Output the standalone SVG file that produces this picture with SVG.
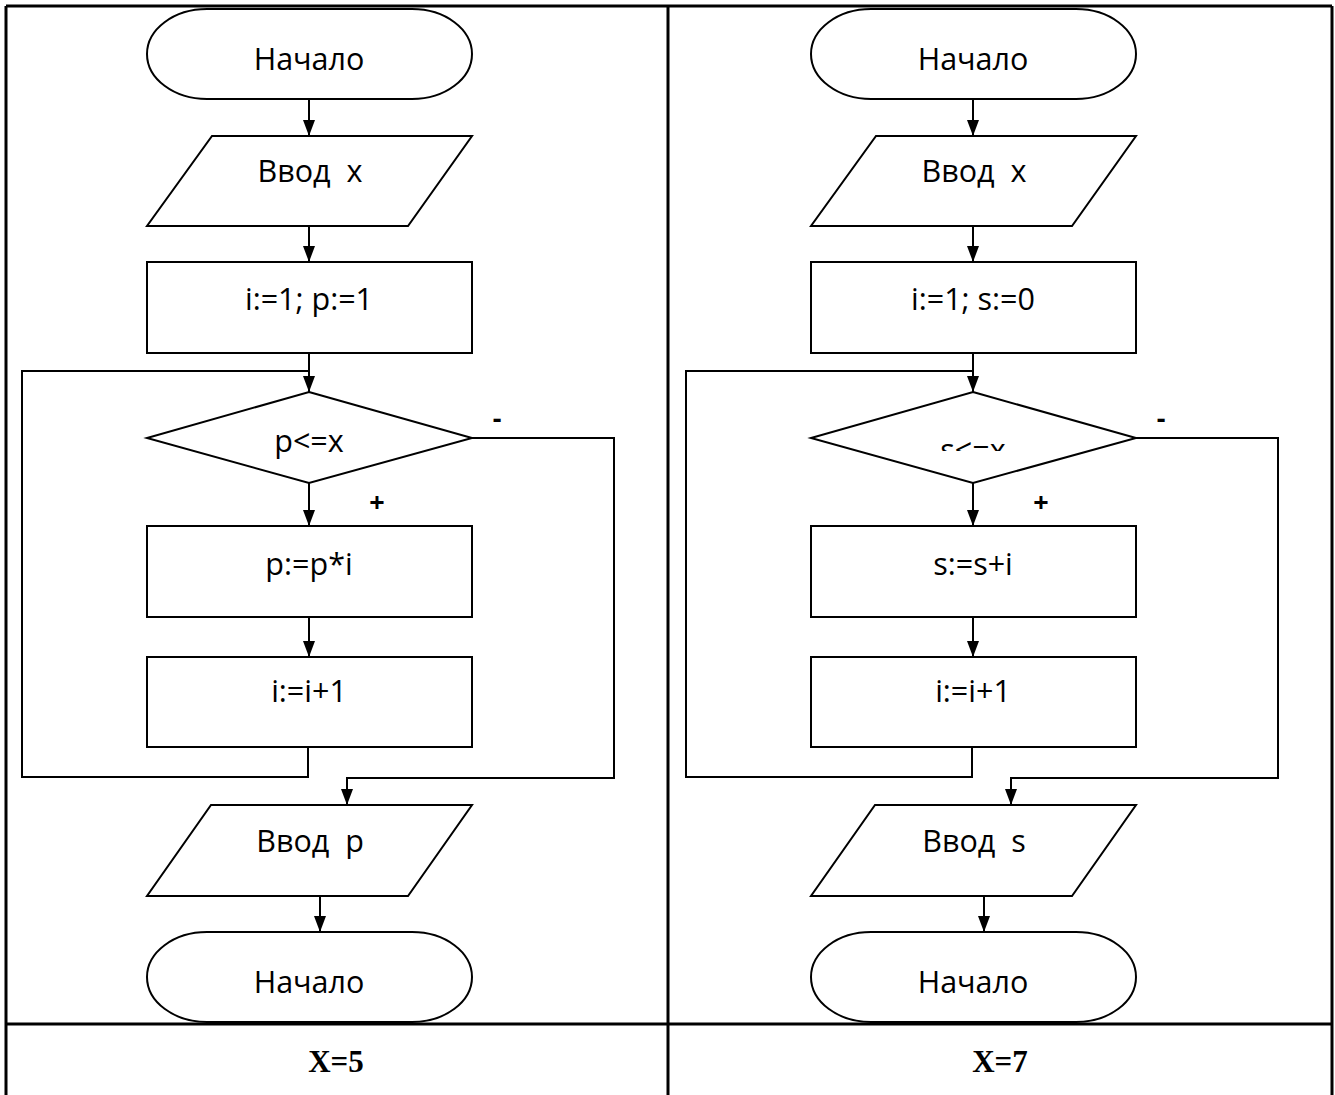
<svg xmlns="http://www.w3.org/2000/svg" width="1335" height="1095" viewBox="0 0 1335 1095">
<style>
.sh{fill:#fff;stroke:#000;stroke-width:2}
.t{font-family:"Open Sans","Liberation Sans",sans-serif;font-size:30.5px;fill:#000;text-anchor:middle;white-space:pre}
.lbl{font-family:"Open Sans","Liberation Sans",sans-serif;font-size:27px;font-weight:bold;fill:#000;text-anchor:middle}
.cap{font-family:"Liberation Serif",serif;font-size:31px;font-weight:bold;fill:#000;text-anchor:middle}
.c{fill:none;stroke:#000;stroke-width:2}
.tb{fill:none;stroke:#000;stroke-width:3}
</style>
<defs>
<marker id="ah" viewBox="0 0 16 12" markerWidth="16" markerHeight="12" refX="16" refY="6" orient="auto" markerUnits="userSpaceOnUse"><path d="M0,0 L16,6 L0,12 z" fill="#000"/></marker>
<clipPath id="clipS"><rect x="800" y="380" width="340" height="71"/></clipPath>
</defs>
<rect width="1335" height="1095" fill="#fff"/>
<g id="table">
<path class="tb" d="M6,6 H1332 M6,6 V1095 M668,6 V1095 M1332,6 V1095 M6,1024 H1332"/>
</g>
<g id="connectors">
<path class="c" d="M309,99 V136" marker-end="url(#ah)"/>
<path class="c" d="M309,226 V262" marker-end="url(#ah)"/>
<path class="c" d="M309,353 V392" marker-end="url(#ah)"/>
<path class="c" d="M308,747 V777 H22 V371 H309"/>
<path class="c" d="M309,483 V526" marker-end="url(#ah)"/>
<path class="c" d="M309,617 V657" marker-end="url(#ah)"/>
<path class="c" d="M472,438 H614 V778 H347 V805" marker-end="url(#ah)"/>
<path class="c" d="M320,896 V932" marker-end="url(#ah)"/>
<path class="c" d="M973,99 V136" marker-end="url(#ah)"/>
<path class="c" d="M973,226 V262" marker-end="url(#ah)"/>
<path class="c" d="M973,353 V392" marker-end="url(#ah)"/>
<path class="c" d="M972,747 V777 H686 V371 H973"/>
<path class="c" d="M973,483 V526" marker-end="url(#ah)"/>
<path class="c" d="M973,617 V657" marker-end="url(#ah)"/>
<path class="c" d="M1136,438 H1278 V778 H1011 V805" marker-end="url(#ah)"/>
<path class="c" d="M984,896 V932" marker-end="url(#ah)"/>
</g>
<g id="labels">
<text class="lbl" x="497" y="428">-</text>
<text class="lbl" x="377" y="512">+</text>
<text class="lbl" x="1161" y="428">-</text>
<text class="lbl" x="1041" y="512">+</text>
</g>
<g id="L-start"><rect class="sh" x="147" y="9" width="325" height="90" rx="60" ry="45"/><text class="t" x="309" y="70">Начало</text></g>
<g id="L-input"><polygon class="sh" points="212,136 472,136 408,226 147,226"/><text class="t" x="310" y="182">Ввод  x</text></g>
<g id="L-init"><rect class="sh" x="147" y="262" width="325" height="91"/><text class="t" x="309" y="310">i:=1; p:=1</text></g>
<g id="L-cond"><polygon class="sh" points="309,392 472,438 309,483 147,438"/><text class="t" x="309" y="452">p&lt;=x</text></g>
<g id="L-mul"><rect class="sh" x="147" y="526" width="325" height="91"/><text class="t" x="309" y="575">p:=p*i</text></g>
<g id="L-inc"><rect class="sh" x="147" y="657" width="325" height="90"/><text class="t" x="309" y="702">i:=i+1</text></g>
<g id="L-output"><polygon class="sh" points="211,805 472,805 408,896 147,896"/><text class="t" x="310" y="852">Ввод  p</text></g>
<g id="L-end"><rect class="sh" x="147" y="932" width="325" height="90" rx="60" ry="45"/><text class="t" x="309" y="993">Начало</text></g>
<g id="R-start"><rect class="sh" x="811" y="9" width="325" height="90" rx="60" ry="45"/><text class="t" x="973" y="70">Начало</text></g>
<g id="R-input"><polygon class="sh" points="876,136 1136,136 1072,226 811,226"/><text class="t" x="974" y="182">Ввод  x</text></g>
<g id="R-init"><rect class="sh" x="811" y="262" width="325" height="91"/><text class="t" x="973" y="310">i:=1; s:=0</text></g>
<g id="R-cond"><polygon class="sh" points="973,392 1136,438 973,483 811,438"/><text class="t" x="973" y="461" clip-path="url(#clipS)">s&lt;=x</text></g>
<g id="R-add"><rect class="sh" x="811" y="526" width="325" height="91"/><text class="t" x="973" y="575">s:=s+i</text></g>
<g id="R-inc"><rect class="sh" x="811" y="657" width="325" height="90"/><text class="t" x="973" y="702">i:=i+1</text></g>
<g id="R-output"><polygon class="sh" points="875,805 1136,805 1072,896 811,896"/><text class="t" x="974" y="852">Ввод  s</text></g>
<g id="R-end"><rect class="sh" x="811" y="932" width="325" height="90" rx="60" ry="45"/><text class="t" x="973" y="993">Начало</text></g>
<g id="captions">
<text class="cap" x="336" y="1072">X=5</text>
<text class="cap" x="1000" y="1072">X=7</text>
</g>
</svg>
